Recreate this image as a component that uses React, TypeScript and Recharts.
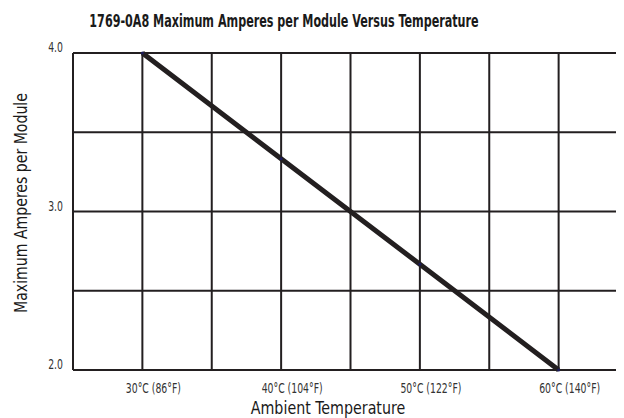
import React from "react";
import { LineChart, Line, XAxis, YAxis, CartesianGrid } from "recharts";

const tempC = [30, 40, 50, 60];
const maxAmps = [4.0, 3.333, 2.667, 2.0];

const xTicks = [25, 30, 35, 40, 45, 50, 55, 60, 65];
const xTickLabels: Record<number, string> = {
  30: "30°C (86°F)",
  40: "40°C (104°F)",
  50: "50°C (122°F)",
  60: "60°C (140°F)",
};
const yTicks = [2.0, 2.5, 3.0, 3.5, 4.0];
const yTickLabels: Record<number, string> = { 2: "2.0", 3: "3.0", 4: "4.0" };

const title = "1769-0A8 Maximum Amperes per Module Versus Temperature";
const xLabel = "Ambient Temperature";
const yLabel = "Maximum Amperes per Module";

const data = tempC.map((t, i) => ({ t, a: maxAmps[i] }));

const FONT = "'DejaVu Sans Condensed', 'DejaVu Sans', sans-serif";
const INK = "#231f20";

const XTick = (props: any) => {
  const { x, y, payload } = props;
  const label = xTickLabels[payload.value];
  if (!label) return null;
  return (
    <text
      transform={`translate(${x + 11},${y + 15}) scale(0.74,1)`}
      textAnchor="middle"
      fontFamily={FONT}
      fontSize={14}
      fill="#333"
    >
      {label}
    </text>
  );
};

const YTick = (props: any) => {
  const { x, y, payload } = props;
  const label = yTickLabels[payload.value];
  if (!label) return null;
  return (
    <text
      transform={`translate(${x},${y - 1}) scale(0.74,1)`}
      textAnchor="end"
      fontFamily={FONT}
      fontSize={14}
      fill="#333"
    >
      {label}
    </text>
  );
};

export default function App() {
  return (
    <div style={{ position: "relative", width: 616, height: 410, overflow: "hidden", fontFamily: FONT }}>
      <LineChart width={620} height={410} data={data} margin={{ top: 45, right: 0, bottom: 0, left: 0 }}>
        <CartesianGrid stroke={INK} strokeWidth={2} />
        <XAxis
          dataKey="t"
          type="number"
          domain={[25, 65]}
          ticks={xTicks}
          height={48}
          tickLine={false}
          axisLine={{ stroke: INK, strokeWidth: 2 }}
          tick={<XTick />}
          interval={0}
        />
        <YAxis
          type="number"
          domain={[2, 4]}
          ticks={yTicks}
          width={65}
          tickLine={false}
          tickSize={0}
          tickMargin={10}
          axisLine={{ stroke: INK, strokeWidth: 2 }}
          tick={<YTick />}
          interval={0}
        />
        <Line
          dataKey="a"
          stroke={INK}
          strokeWidth={5}
          dot={{ r: 1.5, fill: "#1b1b5a", stroke: "none" }}
          isAnimationActive={false}
        />
      </LineChart>
      <div
        style={{
          position: "absolute",
          left: 276,
          top: 13,
          transform: "translate(-50%, -50%) scale(0.73, 1)",
          whiteSpace: "nowrap",
          fontWeight: "bold",
          fontSize: 17,
          color: "#1a1a1a",
        }}
      >
        {title}
      </div>
      <div
        style={{
          position: "absolute",
          left: 320,
          top: 399,
          transform: "translate(-50%, -50%) scale(0.88, 1)",
          whiteSpace: "nowrap",
          fontSize: 18,
          color: "#1a1a1a",
        }}
      >
        {xLabel}
      </div>
      <div
        style={{
          position: "absolute",
          left: 12,
          top: 195,
          transform: "translate(-50%, -50%) rotate(-90deg) scale(0.87, 1)",
          whiteSpace: "nowrap",
          fontSize: 18,
          color: "#1a1a1a",
        }}
      >
        {yLabel}
      </div>
    </div>
  );
}
